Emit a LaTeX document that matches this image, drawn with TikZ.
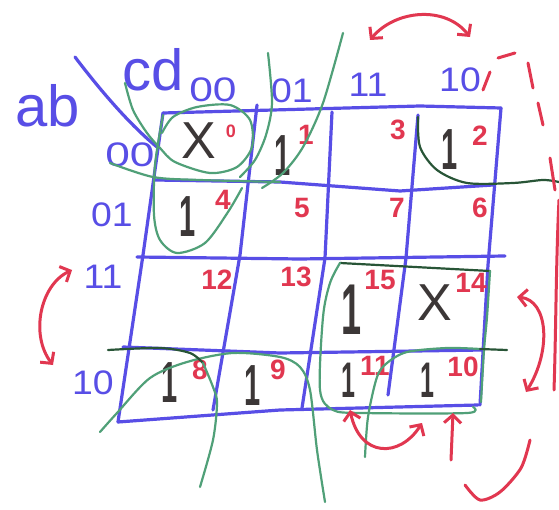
\documentclass[tikz,border=0pt]{standalone}
\usepackage{fontspec}
\setmainfont{Liberation Sans}
\usetikzlibrary{arrows.meta}
\definecolor{kblue}{RGB}{88,78,230}
\definecolor{kred}{RGB}{225,55,80}
\definecolor{kgreen}{RGB}{80,160,120}
\definecolor{kdgreen}{RGB}{40,85,55}
\definecolor{kink}{RGB}{60,55,55}
\begin{document}
\begin{tikzpicture}[x=1pt,y=-1pt,line cap=round,line join=round,
  gridline/.style={draw=kblue,line width=3.2pt},
  grn/.style={draw=kgreen,line width=2.2pt},
  dgrn/.style={draw=kdgreen,line width=2.2pt},
  redline/.style={draw=kred,line width=3pt},
  redarr/.style={redline,{Straight Barb[length=8pt,width=17pt]}-{Straight Barb[length=8pt,width=17pt]}},
  lbl/.style={text=kblue,inner sep=0pt,font=\fontsize{34}{34}\selectfont},
  big/.style={text=kblue,inner sep=0pt,font=\fontsize{58}{58}\selectfont},
  num/.style={text=kred,inner sep=0pt,font=\bfseries\fontsize{28}{28}\selectfont},
  one/.style={text=kink,inner sep=0pt,font=\bfseries\fontsize{58}{58}\selectfont,xscale=0.5},
  ex/.style={text=kink,inner sep=0pt,font=\fontsize{52}{52}\selectfont}]
\useasboundingbox[fill=white] (0,0) rectangle (559,510);

% ---------- grid ----------
\draw[gridline] (163,113) -- (420,106) -- (501,108);
\draw[gridline] (501,108) -- (488,265) -- (480,405);
\draw[gridline] (118,422) -- (280,410) -- (478,405);
\draw[gridline] (163,113) -- (143,255) -- (118,422);
\draw[gridline] (155,180) -- (280,182) -- (400,191) -- (493,185);
\draw[gridline] (137,257) -- (300,259) -- (505,256);
\draw[gridline] (123,347) -- (280,353) -- (483,350);
\draw[gridline] (257,105) -- (240,255) -- (213,410);
\draw[gridline] (332,112) -- (325,258) -- (302,408);
\draw[gridline] (418,115) -- (406,258) -- (388,395);
\draw[gridline] (75,57) .. controls (100,90) and (130,125) .. (157,147);

% ---------- variable labels ----------
\node[big] (ab) at (48,106) {ab};
\node[big] (cd) at (153,70) {cd};
\node[lbl,xscale=1.25] (c00) at (213,90) {00};
\node[lbl,xscale=1.1] (c01) at (292,91) {01};
\node[lbl,xscale=1.1] (c11) at (368,85) {11};
\node[lbl,xscale=1.1] (c10) at (460,80) {10};
\node[lbl,xscale=1.3] (r00) at (130,155) {00};
\node[lbl,xscale=1.1] (r01) at (112,215) {01};
\node[lbl,xscale=1.1] (r11) at (103,277) {11};
\node[lbl,xscale=1.1] (r10) at (93,383) {10};

% ---------- cell contents ----------
\node[ex] (x0) at (199,141) {X};
\node[text=kred,inner sep=0pt,font=\bfseries\fontsize{18}{18}\selectfont] (n0) at (231,131) {0};
\node[one] (v1) at (283,156) {1};
\node[num] (n1) at (306,135) {1};
\node[num] (n3) at (398,130) {3};
\node[one] (v2) at (450,150) {1};
\node[num] (n2) at (480,136) {2};
\node[one] (v4) at (188,217) {1};
\node[num] (n4) at (223,200) {4};
\node[num] (n5) at (302,208) {5};
\node[num] (n7) at (397,208) {7};
\node[num] (n6) at (480,208) {6};
\node[num] (n12) at (217,280) {12};
\node[num] (n13) at (296,277) {13};
\node[one,font=\bfseries\fontsize{72}{72}\selectfont] (v15) at (352,310) {1};
\node[num] (n15) at (380,280) {15};
\node[ex] (x14) at (435,303) {X};
\node[num] (n14) at (471,283) {14};
\node[one] (v8) at (170,383) {1};
\node[num] (n8) at (200,370) {8};
\node[one] (v9) at (253,386) {1};
\node[num] (n9) at (278,370) {9};
\node[one,font=\bfseries\fontsize{50}{50}\selectfont] (v11) at (348,380) {1};
\node[num] (n11) at (375,366) {11};
\node[one,font=\bfseries\fontsize{50}{50}\selectfont] (v10) at (427,380) {1};
\node[num] (n10) at (463,367) {10};

% ---------- green groupings ----------
\draw[grn] plot[smooth] coordinates {(125,83) (133,110) (147,133) (160,148) (175,162) (210,173) (237,167) (252,147) (250,120) (230,105) (197,107) (173,117) (162,133)};
\draw[grn] plot[smooth] coordinates {(163,115) (155,165) (154,215) (160,240) (177,253) (205,243) (228,212) (242,188)};
\draw[grn] plot[smooth] coordinates {(110,163) (153,177) (200,180) (280,182)};
\draw[grn] plot[smooth] coordinates {(268,53) (272,103) (266,135) (255,160) (240,177)};
\draw[grn] plot[smooth] coordinates {(343,33) (323,103) (303,147) (283,173) (262,188)};
\draw[dgrn] plot[smooth] coordinates {(418,117) (420,147) (437,170) (467,183) (513,183) (543,180) (559,182)};
\draw[dgrn] (340,263) -- (490,271);
\draw[grn] plot[smooth] coordinates {(340,263) (330,283) (323,317) (320,390) (333,410) (363,413) (467,413) (473,407)};
\draw[grn] plot[smooth] coordinates {(490,271) (487,317) (484,350) (481,402)};
\draw[grn] plot[smooth] coordinates {(365,457) (368,417) (377,377) (387,363) (407,352) (447,348) (480,349)};
\draw[dgrn] (480,349) -- (507,350);
\draw[grn] plot[smooth] coordinates {(100,432) (117,413) (150,378) (187,362) (233,353) (280,357) (300,367) (310,390) (317,450) (325,502)};
\draw[dgrn] plot[smooth] coordinates {(108,350) (160,348) (190,353) (203,363)};
\draw[grn] plot[smooth] coordinates {(203,363) (213,387) (217,403) (213,440) (200,487)};

% ---------- red arrows ----------
\draw[redarr] (370,40) .. controls (395,10) and (445,5) .. (470,37);
\draw[redarr] (72,270) .. controls (40,285) and (30,335) .. (53,365);
\draw[redarr] (517,297) .. controls (548,300) and (552,350) .. (526,392);
\draw[redarr] (350,410) .. controls (360,458) and (400,458) .. (422,423);
\draw[redline,-{Straight Barb[length=8pt,width=17pt]}] (451,460) -- (453,413);

% ---------- red dashed outline ----------
\draw[redline] (483,90) -- (490,72);
\draw[redline] (498,58) -- (515,53);
\draw[redline] (528,63) -- (533,88);
\draw[redline] (538,103) -- (543,125);
\draw[redline] (550,158) -- (555,190);
\draw[redline] (559,200) .. controls (556,260) and (556,330) .. (554,390);
\draw[redline] plot[smooth] coordinates {(530,440) (521,468) (500,492) (480,500) (465,485)};
\end{tikzpicture}
\end{document}
